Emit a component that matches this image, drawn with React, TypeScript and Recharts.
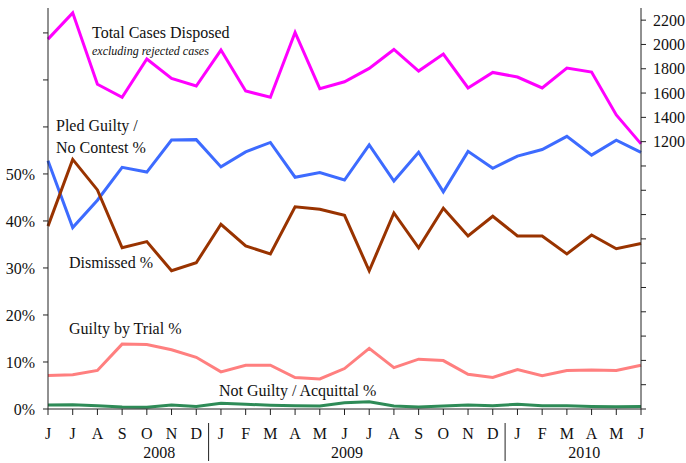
import { LineChart, Line, XAxis, YAxis } from "recharts";

const months = ["J", "J", "A", "S", "O", "N", "D", "J", "F", "M", "A", "M", "J", "J", "A", "S", "O", "N", "D", "J", "F", "M", "A", "M", "J"];
const yearLabels = ["2008", "2009", "2010"];

const totalCases = [2044, 2260, 1672, 1565, 1880, 1721, 1658, 1954, 1617, 1565, 2099, 1636, 1693, 1803, 1959, 1781, 1921, 1642, 1770, 1732, 1642, 1806, 1773, 1420, 1182];
const pledGuilty = [52.8, 38.6, 44.4, 51.4, 50.4, 57.2, 57.3, 51.5, 54.7, 56.7, 49.3, 50.3, 48.7, 56.2, 48.5, 54.6, 46.2, 54.8, 51.2, 53.8, 55.2, 58.0, 54.0, 57.2, 54.6];
const dismissed = [38.9, 53.1, 46.6, 34.3, 35.6, 29.4, 31.1, 39.3, 34.7, 33.0, 43.0, 42.5, 41.2, 29.4, 41.7, 34.3, 42.7, 36.8, 41.0, 36.8, 36.8, 33.0, 37.0, 34.1, 35.2];
const guiltyTrial = [7.1, 7.3, 8.2, 13.8, 13.7, 12.6, 11.0, 7.9, 9.3, 9.3, 6.7, 6.4, 8.6, 12.9, 8.8, 10.6, 10.3, 7.4, 6.7, 8.4, 7.1, 8.2, 8.3, 8.2, 9.3];
const notGuilty = [0.85, 0.9, 0.7, 0.4, 0.35, 0.85, 0.55, 1.2, 1.0, 0.8, 0.7, 0.65, 1.35, 1.55, 0.65, 0.4, 0.65, 0.85, 0.7, 1.0, 0.7, 0.7, 0.55, 0.5, 0.55];

const pctTicks = [0, 10, 20, 30, 40, 50, 60, 70, 80];
const caseTicks = [-1000, -800, -600, -400, -200, 0, 200, 400, 600, 800, 1000, 1200, 1400, 1600, 1800, 2000, 2200];

const data = months.map((m, i) => ({
  idx: i,
  total: totalCases[i],
  pled: pledGuilty[i],
  dismissed: dismissed[i],
  trial: guiltyTrial[i],
  notGuilty: notGuilty[i],
}));

const W = 686;
const H = 463;
const PLOT_L = 48;
const PLOT_R = 641;
const FONT = "'Liberation Serif', 'Times New Roman', serif";
const AXIS = "#222";

// year label centers and separators, in month-index units
const yearCenters = [4.5, 12.1, 21.7];
const separators = [6.5, 18.5];

const step = (PLOT_R - PLOT_L) / (months.length - 1);
const xAt = (i: number) => PLOT_L + i * step;

function MonthTick(props: any) {
  const { x, y, payload } = props;
  return (
    <text x={x} y={y + 22} textAnchor="middle" fontSize={16} fontFamily={FONT} fill="#111">
      {months[payload.value]}
    </text>
  );
}

export default function App() {
  return (
    <div style={{ position: "absolute", left: 0, top: 0, width: W, height: H }}>
      <LineChart width={W} height={H} data={data} margin={{ top: 8, right: 0, bottom: 0, left: 0 }}>
        <XAxis
          dataKey="idx"
          type="category"
          height={54}
          tick={<MonthTick />}
          tickSize={6}
          stroke={AXIS}
          interval={0}
        />
        <YAxis
          yAxisId="pct"
          width={48}
          domain={[0, 85.3]}
          ticks={pctTicks}
          tickSize={5}
          tickMargin={8}
          stroke={AXIS}
          tick={{ fontSize: 16, fontFamily: FONT, fill: "#111" }}
          tickFormatter={(v: number) => (v <= 50 ? `${v}%` : "")}
        />
        <YAxis
          yAxisId="cases"
          orientation="right"
          width={45}
          domain={[-1000, 2300]}
          ticks={caseTicks}
          tickSize={5}
          tickMargin={7}
          stroke={AXIS}
          tick={{ fontSize: 16, fontFamily: FONT, fill: "#111", textAnchor: "start" }}
          tickFormatter={(v: number) => (v >= 1200 ? `${v}` : "")}
        />
        <Line yAxisId="cases" dataKey="total" stroke="#ff00ff" strokeWidth={3} dot={false} isAnimationActive={false} strokeLinejoin="miter" />
        <Line yAxisId="pct" dataKey="pled" stroke="#3d6bff" strokeWidth={3} dot={false} isAnimationActive={false} strokeLinejoin="miter" />
        <Line yAxisId="pct" dataKey="dismissed" stroke="#993300" strokeWidth={3} dot={false} isAnimationActive={false} strokeLinejoin="miter" />
        <Line yAxisId="pct" dataKey="trial" stroke="#ff7f7f" strokeWidth={3} dot={false} isAnimationActive={false} strokeLinejoin="miter" />
        <Line yAxisId="pct" dataKey="notGuilty" stroke="#2e8b57" strokeWidth={3} dot={false} isAnimationActive={false} strokeLinejoin="miter" />
      </LineChart>
      <svg
        width={W}
        height={H}
        style={{ position: "absolute", left: 0, top: 0, pointerEvents: "none" }}
        fontFamily={FONT}
        fill="#111"
      >
        <text x={92} y={38} fontSize={16}>Total Cases Disposed</text>
        <text x={92} y={55} fontSize={12} fontStyle="italic">excluding rejected cases</text>
        <text x={56} y={131} fontSize={16}>Pled Guilty /</text>
        <text x={56} y={153} fontSize={16}>No Contest %</text>
        <text x={69} y={268} fontSize={16}>Dismissed %</text>
        <text x={69} y={334} fontSize={16}>Guilty by Trial %</text>
        <text x={219} y={396} fontSize={16}>Not Guilty / Acquittal %</text>
        {yearLabels.map((yl, i) => (
          <text key={yl} x={xAt(yearCenters[i])} y={458} fontSize={16} textAnchor="middle">
            {yl}
          </text>
        ))}
        {separators.map((s) => (
          <line key={s} x1={xAt(s)} x2={xAt(s)} y1={423} y2={461} stroke={AXIS} strokeWidth={1} />
        ))}
      </svg>
    </div>
  );
}
